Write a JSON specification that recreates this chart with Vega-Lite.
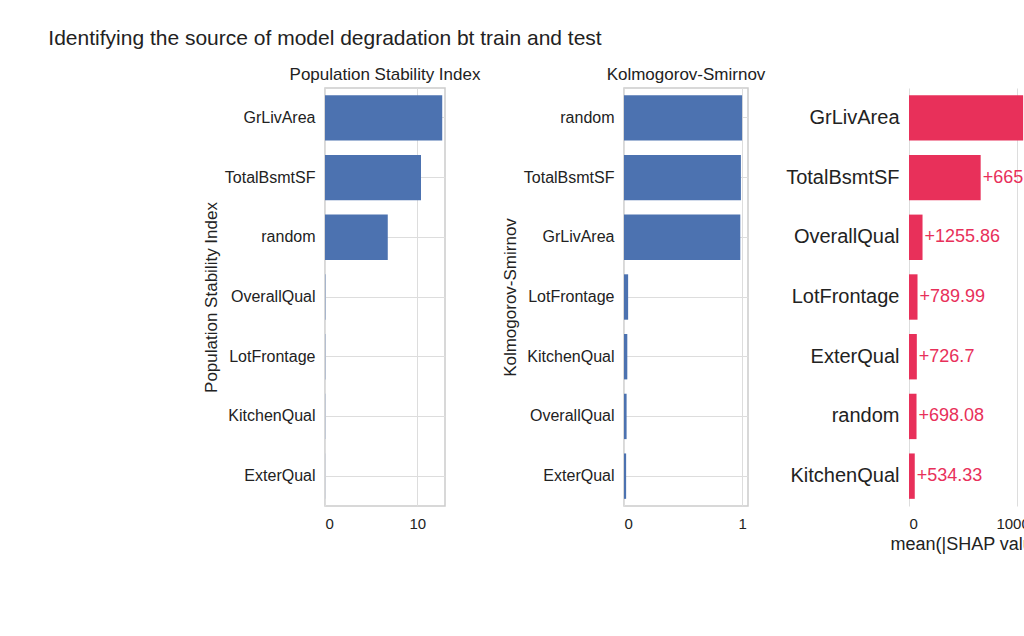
{
  "$schema": "https://vega.github.io/schema/vega-lite/v6.json",
  "background": "white",
  "padding": {"left": 48, "top": 28, "right": 5, "bottom": 10},
  "title": {"text": "Identifying the source of model degradation bt train and test", "fontSize": 21, "font": "Liberation Sans", "fontWeight": "normal", "color": "#222", "offset": 16, "anchor": "middle", "frame": "group"},
  "config": {
    "font": "Liberation Sans",
    "view": {"stroke": "#cccccc", "strokeWidth": 1.5},
    "axis": {"grid": true, "gridColor": "#dddddd", "domain": false, "ticks": false, "labelFontSize": 16, "labelColor": "#222", "titleFontSize": 17, "titleFontWeight": "normal", "titleColor": "#222", "labelPadding": 10},
    "axisX": {"labelFontSize": 15, "format": "d"},
    "title": {"fontSize": 17, "fontWeight": "normal", "color": "#222"},
    "concat": {"spacing": 18}
  },
  "datasets": {
    "psi": [
      {"feature": "GrLivArea", "value": 12.7},
      {"feature": "TotalBsmtSF", "value": 10.4},
      {"feature": "random", "value": 6.8},
      {"feature": "OverallQual", "value": 0.04},
      {"feature": "LotFrontage", "value": 0.03},
      {"feature": "KitchenQual", "value": 0.02},
      {"feature": "ExterQual", "value": 0.01}
    ],
    "ks": [
      {"feature": "random", "value": 1.0},
      {"feature": "TotalBsmtSF", "value": 0.99},
      {"feature": "GrLivArea", "value": 0.985},
      {"feature": "LotFrontage", "value": 0.035},
      {"feature": "KitchenQual", "value": 0.028},
      {"feature": "OverallQual", "value": 0.022},
      {"feature": "ExterQual", "value": 0.018}
    ],
    "shap": [
      {"feature": "GrLivArea", "value": 10593.18, "label": "+10593.18"},
      {"feature": "TotalBsmtSF", "value": 6651.27, "label": "+6651.27"},
      {"feature": "OverallQual", "value": 1255.86, "label": "+1255.86"},
      {"feature": "LotFrontage", "value": 789.99, "label": "+789.99"},
      {"feature": "ExterQual", "value": 726.7, "label": "+726.7"},
      {"feature": "random", "value": 698.08, "label": "+698.08"},
      {"feature": "KitchenQual", "value": 534.33, "label": "+534.33"}
    ]
  },
  "hconcat": [
    {
      "data": {"name": "psi"},
      "title": "Population Stability Index",
      "width": 120, "height": 418,
      "mark": {"type": "bar", "color": "#4c72b0"},
      "encoding": {
        "y": {"field": "feature", "type": "nominal", "sort": null, "title": "Population Stability Index", "scale": {"paddingInner": 0.24, "paddingOuter": 0.12}},
        "x": {"field": "value", "type": "quantitative", "title": null, "scale": {"domain": [0, 13]}, "axis": {"values": [0, 10]}}
      }
    },
    {
      "data": {"name": "ks"},
      "title": "Kolmogorov-Smirnov",
      "width": 124, "height": 418,
      "mark": {"type": "bar", "color": "#4c72b0"},
      "encoding": {
        "y": {"field": "feature", "type": "nominal", "sort": null, "title": "Kolmogorov-Smirnov", "scale": {"paddingInner": 0.24, "paddingOuter": 0.12}},
        "x": {"field": "value", "type": "quantitative", "title": null, "scale": {"domain": [0, 1.05]}, "axis": {"values": [0, 1]}}
      }
    },
    {
      "data": {"name": "shap"},
      "width": 125, "height": 418,
      "view": {"stroke": null},
      "encoding": {
        "y": {"field": "feature", "type": "nominal", "sort": null, "title": null, "scale": {"paddingInner": 0.24, "paddingOuter": 0.12}, "axis": {"labelFontSize": 20, "grid": false}},
        "x": {"field": "value", "type": "quantitative", "title": "mean(|SHAP value|)", "scale": {"domain": [0, 11600]}, "axis": {"values": [0, 10000], "titleFontSize": 18}}
      },
      "layer": [
        {"mark": {"type": "bar", "color": "#e8305a"}},
        {"mark": {"type": "text", "align": "left", "dx": 2, "fontSize": 18, "color": "#e8305a"}, "encoding": {"text": {"field": "label"}}}
      ]
    }
  ]
}
